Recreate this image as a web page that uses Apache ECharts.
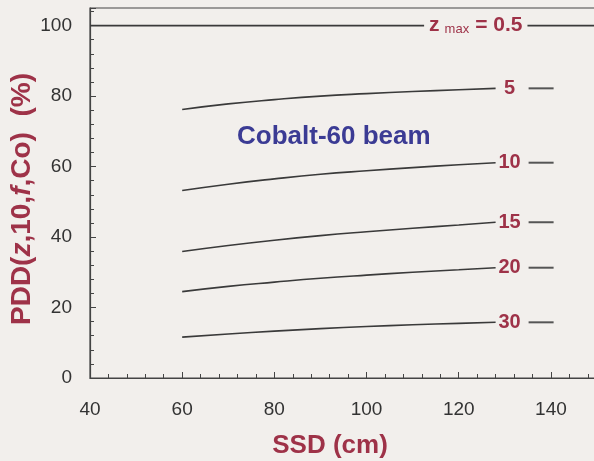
<!DOCTYPE html>
<html><head><meta charset="utf-8">
<script src="https://cdn.jsdelivr.net/npm/echarts@6/dist/echarts.min.js"></script>
<style>html,body{margin:0;padding:0;background:#f2efec;}#c{width:594px;height:461px;}</style>
</head><body><div id="c"></div>
<script>
const ssd = [60, 70, 80, 90, 100, 110, 120, 128];
const z5  = [76.2, 77.8, 79.0, 80.0, 80.7, 81.3, 81.8, 82.2];
const z10 = [53.2, 55.0, 56.5, 57.8, 58.8, 59.7, 60.5, 61.1];
const z15 = [35.9, 37.6, 39.1, 40.4, 41.5, 42.5, 43.4, 44.2];
const z20 = [24.5, 26.0, 27.2, 28.3, 29.2, 30.0, 30.7, 31.3];
const z30 = [11.6, 12.5, 13.3, 14.0, 14.6, 15.1, 15.5, 15.8];
const z05Ssd = [40, 150];
const z05  = [100, 100];
const depthLabels = ['5', '10', '15', '20', '30'];
const curves = [z5, z10, z15, z20, z30];

const BG = '#f2efec';
const RED = '#9e3248';
const LINE = '#3a3a3a';
const FF = 'Liberation Sans';

const series = curves.map((vals, i) => ({
  type: 'line',
  smooth: true,
  symbol: 'none',
  data: ssd.map((x, j) => [x, vals[j]]),
  lineStyle: { color: LINE, width: 1.6 },
  endLabel: {
    show: true,
    distance: 2,
    formatter: '{n|' + depthLabels[i] + '}{g|}{d|}',
    rich: {
      n: { width: 24, align: 'right', color: RED, fontSize: 20, fontWeight: 'bold', fontFamily: FF },
      g: { width: 7 },
      d: { width: 25, height: 2, backgroundColor: '#555' }
    }
  }
}));

series.push({
  type: 'line',
  symbol: 'none',
  data: z05Ssd.map((x, j) => [x, z05[j]]),
  lineStyle: { color: LINE, width: 1.6 },
  markPoint: {
    symbol: 'rect',
    symbolSize: 0,
    data: [{ coord: [123.7, 100] }],
    label: {
      show: true,
      position: 'inside',
      backgroundColor: BG,
      padding: [2, 5],
      formatter: '{z|z}{s|max}{t|= 0.5}',
      rich: {
        z: { color: RED, fontSize: 21, fontWeight: 'bold', fontFamily: FF },
        s: { color: RED, fontSize: 13, fontFamily: FF, verticalAlign: 'bottom', padding: [8, 6, 0, 5] },
        t: { color: RED, fontSize: 21, fontWeight: 'bold', fontFamily: FF }
      }
    }
  }
});

const chart = echarts.init(document.getElementById('c'));
chart.setOption({
  backgroundColor: BG,
  animation: false,
  grid: { left: 90, top: 8, bottom: 83, width: 507, outerBoundsMode: 'none', containLabel: false,
          show: true, borderColor: '#444', borderWidth: 1.2, backgroundColor: 'transparent' },
  xAxis: {
    type: 'value', min: 40, max: 150, interval: 20,
    name: 'SSD (cm)', nameLocation: 'middle', nameGap: 55, nameMoveOverlap: false,
    nameTextStyle: { color: RED, fontSize: 26, fontWeight: 'bold', fontFamily: FF, padding: [0, 27, 0, 0] },
    axisLine: { lineStyle: { color: '#444', width: 1.2 } },
    axisTick: { inside: true, length: 6, lineStyle: { color: '#444' } },
    minorTick: { show: true, splitNumber: 5, length: 4, lineStyle: { color: '#444' } },
    splitLine: { show: false },
    axisLabel: { color: '#333', fontSize: 19, margin: 22, fontFamily: FF, formatter: v => v > 140 ? '' : v }
  },
  yAxis: {
    type: 'value', min: 0, max: 105, interval: 20,
    name: 'PDD({i|z},10,{i|f},Co)  (%)', nameLocation: 'middle', nameGap: 54, nameMoveOverlap: false,
    nameTextStyle: { color: RED, fontSize: 28, fontWeight: 'bold', fontFamily: FF, padding: [0, 12, 0, 0],
      rich: { i: { color: RED, fontSize: 28, fontWeight: 'bold', fontStyle: 'italic', fontFamily: FF } } },
    axisLine: { lineStyle: { color: '#444', width: 1.2 } },
    axisTick: { inside: true, length: 6, lineStyle: { color: '#444' } },
    minorTick: { show: true, splitNumber: 5, length: 4, lineStyle: { color: '#444' } },
    splitLine: { show: false },
    axisLabel: { color: '#333', fontSize: 19, margin: 18, fontFamily: FF, formatter: v => v > 100 ? '' : v }
  },
  graphic: [{
    type: 'text', left: 237, top: 124,
    style: { text: 'Cobalt-60 beam', fill: '#3b3b94', font: 'bold 26px "Liberation Sans"' }
  }],
  series: series
});
</script></body></html>
